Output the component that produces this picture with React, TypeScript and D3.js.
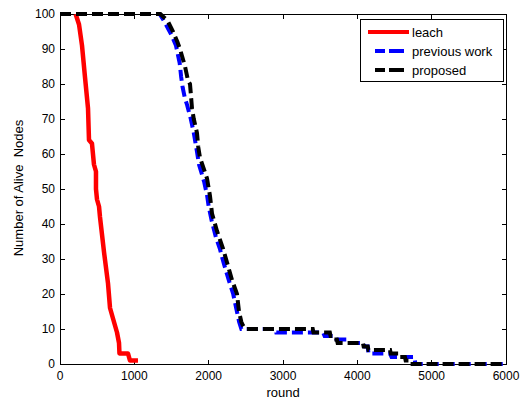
import React from "react";
import * as d3 from "d3";

const xTicks = [0, 1000, 2000, 3000, 4000, 5000, 6000];
const yTicks = [0, 10, 20, 30, 40, 50, 60, 70, 80, 90, 100];

const leachRounds = [210, 256, 296, 336, 377, 390, 430, 457, 484, 484, 498, 525, 538, 592, 646, 673, 713, 767, 794, 800, 915, 941, 1049];
const leachAlive = [100, 97, 91, 82, 73, 64, 63, 57, 55, 50, 47, 45, 42, 32, 23, 16, 13, 9, 6, 3, 3, 1, 1];

const prevRounds = [0, 1340, 1400, 1450, 1500, 1560, 1590, 1610, 1630, 1650, 1680, 1710, 1760, 1800, 1840, 1870, 1940, 1980, 2000, 2040, 2100, 2150, 2200, 2270, 2330, 2370, 2410, 2440, 2900, 2910, 3540, 3560, 3700, 3720, 3860, 3880, 4080, 4100, 4140, 4150, 4440, 4460, 4770, 4780, 6000];
const prevAlive = [100, 100, 98, 96, 94, 91, 88, 86, 82, 79, 76, 74, 70, 66, 61, 57, 52, 48, 45, 41, 36, 33, 29, 24, 20, 16, 12, 10, 10, 9, 9, 8, 8, 7, 7, 6, 6, 5, 5, 3, 3, 2, 2, 0, 0];

const propRounds = [0, 1350, 1400, 1450, 1520, 1580, 1614, 1655, 1682, 1722, 1749, 1776, 1800, 1843, 1860, 1883, 1978, 2018, 2045, 2112, 2193, 2247, 2314, 2381, 2408, 2440, 2462, 2490, 3400, 3410, 3630, 3640, 3680, 3690, 3725, 3735, 4075, 4085, 4140, 4150, 4440, 4450, 4550, 4560, 4640, 4650, 4690, 4700, 6000];
const propAlive = [100, 100, 99, 98, 95, 92, 90, 87, 85, 81, 80, 73, 70, 66, 62, 59, 53, 48, 43, 38, 33, 29, 24, 20, 15, 12, 11, 10, 10, 9, 9, 8, 8, 7, 7, 6, 6, 5, 5, 4, 4, 3, 3, 2, 2, 1, 1, 0, 0];

const legendLabels = ["leach", "previous work", "proposed"];

const FONT = "'Liberation Sans', Arial, Helvetica, sans-serif";

export default function App() {
  const L = 60, R = 506, T = 14, B = 364;
  const x = d3.scaleLinear().domain([0, 6000]).range([L, R]);
  const y = d3.scaleLinear().domain([0, 100]).range([B, T]);
  const line = d3.line<number>().x((d, i) => d).y(0);
  const mk = (rs: number[], as: number[]) =>
    d3.line<number>().x((d) => x(d)).y((d, i) => y(as[i]))(rs) || "";

  const leachPath = mk(leachRounds, leachAlive);
  const prevPath = mk(prevRounds, prevAlive);
  const propPath = mk(propRounds, propAlive);
  void line;

  const tickLen = 4.5;
  return (
    <svg width={524} height={400} style={{ position: "absolute", left: 0, top: 0, background: "#fff" }} fontFamily={FONT}>
      <rect x={0} y={0} width={524} height={400} fill="#fff" />
      {/* axes box */}
      <rect x={L} y={T} width={R - L} height={B - T} fill="none" stroke="#000" strokeWidth={1} shapeRendering="crispEdges" />
      {xTicks.map((t) => (
        <g key={"x" + t}>
          <line x1={x(t)} x2={x(t)} y1={B} y2={B - tickLen} stroke="#000" strokeWidth={1} shapeRendering="crispEdges" />
          <line x1={x(t)} x2={x(t)} y1={T} y2={T + tickLen} stroke="#000" strokeWidth={1} shapeRendering="crispEdges" />
          <text x={x(t)} y={380} fontSize={12} textAnchor="middle" fill="#000">{t}</text>
        </g>
      ))}
      {yTicks.map((t) => (
        <g key={"y" + t}>
          <line x1={L} x2={L + tickLen} y1={y(t)} y2={y(t)} stroke="#000" strokeWidth={1} shapeRendering="crispEdges" />
          <line x1={R} x2={R - tickLen} y1={y(t)} y2={y(t)} stroke="#000" strokeWidth={1} shapeRendering="crispEdges" />
          <text x={55} y={y(t) + 4.3} fontSize={12} textAnchor="end" fill="#000">{t}</text>
        </g>
      ))}
      <text x={283} y={397} fontSize={13} textAnchor="middle" fill="#000">round</text>
      <text x={23} y={188} fontSize={13} textAnchor="middle" fill="#000" transform="rotate(-90 23 188)" style={{ whiteSpace: "pre" }}>{"Number of Alive  Nodes"}</text>

      {/* series */}
      <path d={leachPath} fill="none" stroke="#ff0000" strokeWidth={4.5} strokeLinejoin="round" />
      <path d={prevPath} fill="none" stroke="#0000ff" strokeWidth={4} strokeDasharray="11,5" />
      <path d={propPath} fill="none" stroke="#000000" strokeWidth={4} strokeDasharray="11,5" />

      {/* legend */}
      <rect x={360} y={19} width={143} height={62} fill="#fff" stroke="#000" strokeWidth={1} shapeRendering="crispEdges" />
      <line x1={368} x2={409} y1={32} y2={32} stroke="#ff0000" strokeWidth={4} />
      <line x1={375} x2={404} y1={51} y2={51} stroke="#0000ff" strokeWidth={4} strokeDasharray="10 4 15 4" />
      <line x1={375} x2={404} y1={70} y2={70} stroke="#000" strokeWidth={4} strokeDasharray="10 4 15 4" />
      {legendLabels.map((lab, i) => (
        <text key={lab} x={412} y={[32, 51, 70][i] + 4.5} fontSize={13} fill="#000" style={{ whiteSpace: "pre" }}>{lab}</text>
      ))}
    </svg>
  );
}
